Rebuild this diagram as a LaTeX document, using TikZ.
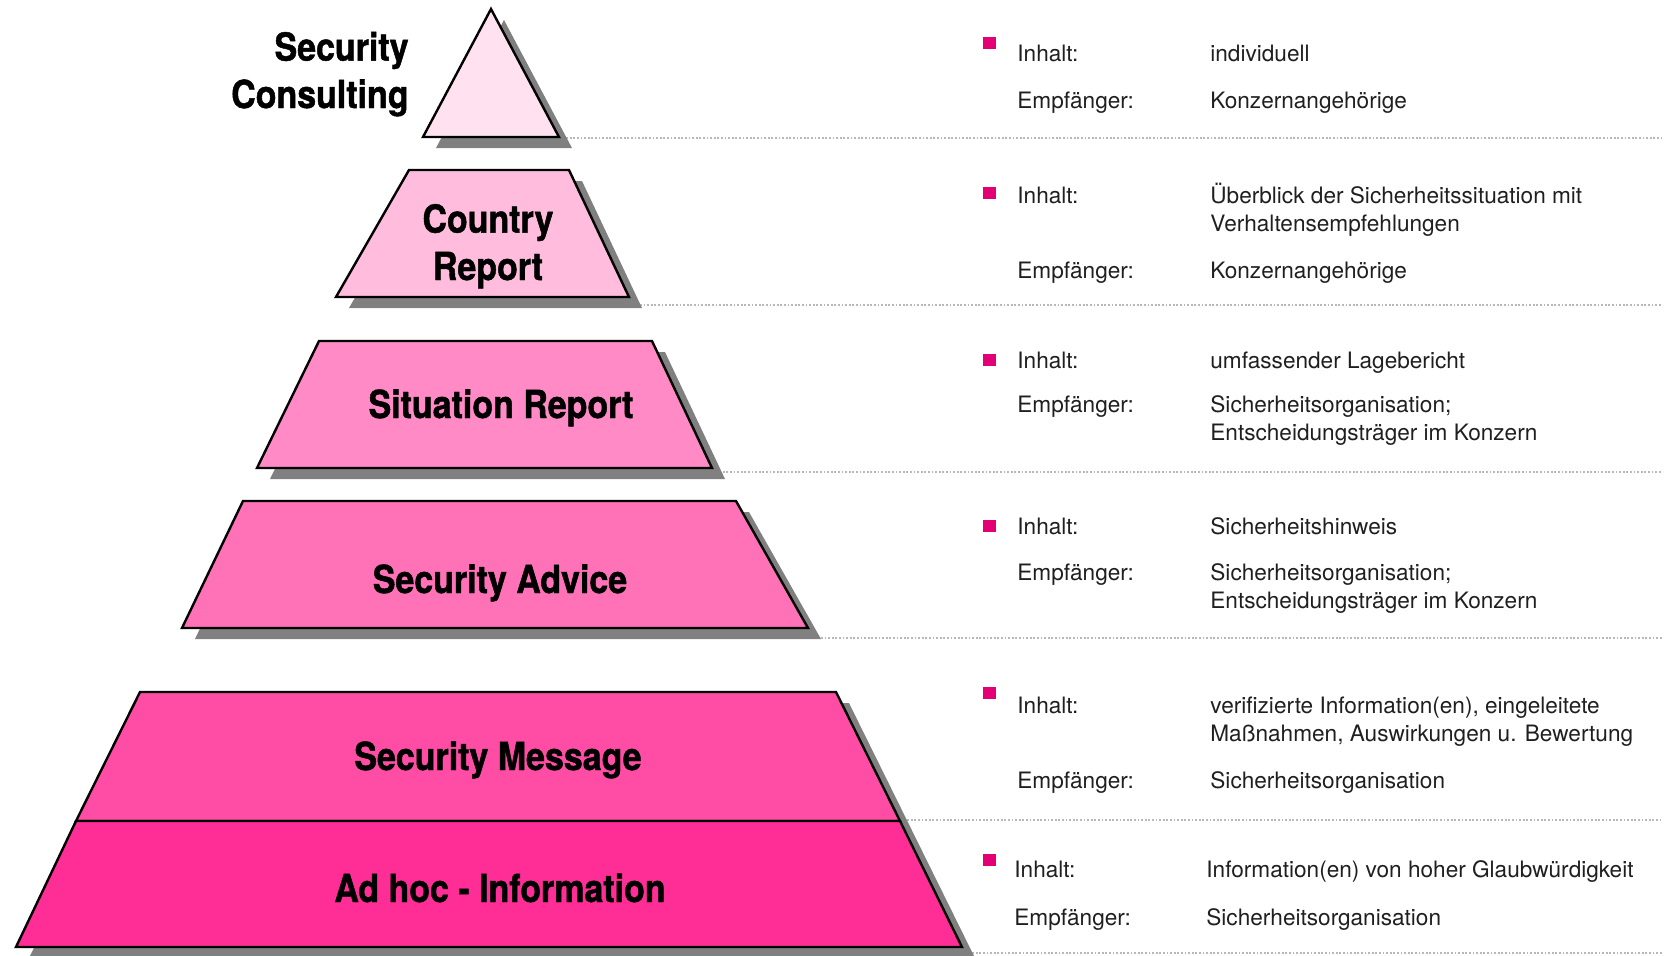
\documentclass[tikz,border=0pt]{standalone}
\usepackage{fontspec}
\setmainfont{TeX Gyre Heros}
\newfontfamily\titlefont{TeX Gyre Heros}[FakeStretch=0.88,FakeBold=1.2]
\usetikzlibrary{positioning, calc}
\definecolor{tmagenta}{HTML}{E20074}
\definecolor{lvA}{HTML}{FFE1F0}
\definecolor{lvB}{HTML}{FFBCDD}
\definecolor{lvC}{HTML}{FF8AC5}
\definecolor{lvD}{HTML}{FF72B8}
\definecolor{lvE}{HTML}{FF4DA6}
\definecolor{lvF}{HTML}{FF2D96}
\tikzset{ % pyramid and legend styles
  level/.style={draw=black,line width=1.2pt,fill=#1},
  shadow/.style={fill=black!50,shift={(13,11)}},
  sep/.style={draw=black!28,line width=0.9pt,dash pattern=on 0.9pt off 0.9pt},
  title/.style={font=\titlefont\bfseries\fontsize{19.3}{23.7}\selectfont,inner sep=0},
  bullet/.style={fill=tmagenta,minimum width=6.5pt,minimum height=6pt,inner sep=0},
  key/.style={anchor=base west,inner sep=0,align=left,text=black!88,
    font=\fontsize{11.3}{14}\selectfont}
}

\begin{document}
\begin{tikzpicture}[x=0.5pt,y=-0.5pt]
\useasboundingbox (0,0) rectangle (1678,955);

% separators
\foreach\x/\y in {559/138,640/305,712/472,803/638,900/820,965/953}
  \draw[sep] (\x,\y) -- (1662,\y);

% shadows
\fill[shadow] (491,9) -- (559,137) -- (423,137) -- cycle;
\foreach\a/\b/\c/\d/\ya/\yb in {409/569/629/336/170/297,319/652/712/257/341/468,
                                243/736/808/182/501/628,140/836/962/16/692/947}
  \fill[shadow] (\a,\ya) -- (\b,\ya) -- (\c,\yb) -- (\d,\yb) -- cycle;

% levels
\draw[level=lvA] (491,9) -- (559,137) -- (423,137) -- cycle;
\foreach\a/\b/\c/\d/\ya/\yb/\col in {409/569/629/336/170/297/lvB,319/652/712/257/341/468/lvC,
                                     243/736/808/182/501/628/lvD,140/836/900/76/692/821/lvE,
                                     76/900/962/16/821/947/lvF}
  \draw[level=\col] (\a,\ya) -- (\b,\ya) -- (\c,\yb) -- (\d,\yb) -- cycle;

% level names (base = last line)
\node[title,anchor=base east,align=right] (consulting) at (409,108) {Security\\Consulting};
\node[title,anchor=base,align=center]     (country)    at (488,280) {Country\\Report};
\node[title,anchor=base]                  (situation)  at (501,418) {Situation Report};
\node[title,anchor=base]                  (advice)     at (500,593) {Security Advice};
\node[title,anchor=base]                  (message)    at (498,770) {Security Message};
\node[title,anchor=base]                  (adhoc)      at (500,902) {Ad hoc - Information};

% legend
\foreach\i/\y in {1/43,2/193,3/359.5,4/525.5,5/692.7,6/859.7}
  \node[bullet] (b\i) at (989,\y) {};
\foreach\i/\x/\y in {1/1017/61.7,2/1017/203.5,3/1017/368,4/1017/534,5/1017/713.5,6/1014/877}
  \node[key] (inh\i) at (\x,\y) {Inhalt:};
\foreach\i/\x/\y in {1/1017/108.5,2/1017/278,3/1017/412.5,4/1017/580,5/1017/788.5,6/1014/925}
  \node[key] (emp\i) at (\x,\y) {Empfänger:};

\node[key] (inhv1) at (1210,61.7)  {individuell};
\node[key] (empv1) at (1210,108.5) {Konzernangehörige};
\node[key] (inhv2) at (1210,231.5) {Überblick der Sicherheitssituation mit\\Verhaltensempfehlungen};
\node[key] (empv2) at (1210,278)   {Konzernangehörige};
\node[key] (inhv3) at (1210,368)   {umfassender Lagebericht};
\node[key] (empv3) at (1210,440.5) {Sicherheitsorganisation;\\Entscheidungsträger im Konzern};
\node[key] (inhv4) at (1210,534)   {Sicherheitshinweis};
\node[key] (empv4) at (1210,608)   {Sicherheitsorganisation;\\Entscheidungsträger im Konzern};
\node[key] (inhv5) at (1210,741.5) {verifizierte Information(en), eingeleitete\\Maßnahmen, Auswirkungen u. Bewertung};
\node[key] (empv5) at (1210,788.5) {Sicherheitsorganisation};
\node[key] (inhv6) at (1206,877)   {Information(en) von hoher Glaubwürdigkeit};
\node[key] (empv6) at (1206,925)   {Sicherheitsorganisation};
\end{tikzpicture}
\end{document}
